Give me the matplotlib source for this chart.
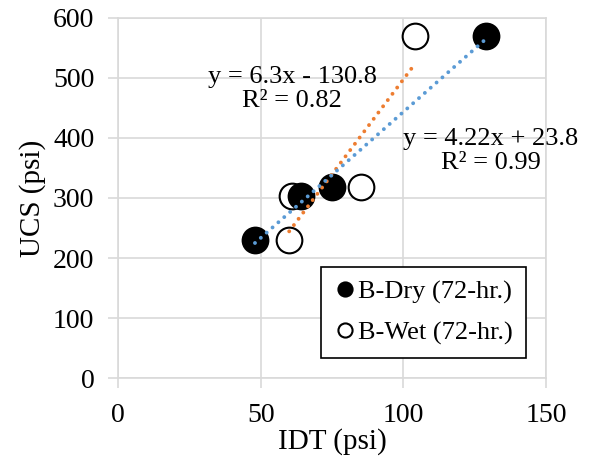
import numpy as np
import matplotlib.pyplot as plt

plt.rcParams['font.family'] = ['Liberation Serif', 'DejaVu Serif']

# B-Dry (72-hr.) и B-Wet (72-hr.)
idt_dry = [48, 64, 75, 129]
ucs_dry = [230, 303, 318, 570]
idt_wet = [60, 61, 85, 104]
ucs_wet = [230, 303, 318, 570]

eq_dry = 'y = 4.22x + 23.8\nR² = 0.99'
eq_wet = 'y = 6.3x - 130.8\nR² = 0.82'

fig = plt.figure(figsize=(5.92, 4.59), dpi=100)
ax = fig.add_axes([118/592, 1 - 378/459, 428/592, 360/459])

grid_c = '#d9d9d9'
ax.set_xlim(0, 150)
ax.set_ylim(0, 600)
ax.set_xticks([0, 50, 100, 150])
ax.set_yticks(range(0, 601, 100))
ax.grid(True, color=grid_c, linewidth=1.2)
ax.set_axisbelow(True)
for s in ax.spines.values():
    s.set_color(grid_c)
    s.set_linewidth(1.2)
ax.tick_params(colors=grid_c, labelcolor='black', labelsize=20, length=7, width=1.2)
ax.tick_params(axis='y', pad=10)
ax.tick_params(axis='x', pad=11)

# линии тренда
p_dry = np.polyfit(idt_dry, ucs_dry, 1)
p_wet = np.polyfit(idt_wet, ucs_wet, 1)
xd = np.array([min(idt_dry), max(idt_dry)])
xw = np.array([min(idt_wet), max(idt_wet)])

ax.plot(idt_dry, ucs_dry, 'o', ms=18.5, mfc='black', mec='black', mew=1.5,
        label='B-Dry (72-hr.)', zorder=3.5)
ax.plot(idt_wet, ucs_wet, 'o', ms=18.5, mfc='white', mec='black', mew=1.5,
        label='B-Wet (72-hr.)', zorder=3)
ax.plot(xw, np.polyval(p_wet, xw), color='#ED7D31', lw=2.8, ls=(0, (0.01, 2.0)),
        dash_capstyle='round', zorder=4)
ax.plot(xd, np.polyval(p_dry, xd), color='#5B9BD5', lw=2.8, ls=(0, (0.01, 2.0)),
        dash_capstyle='round', zorder=4)

ax.text(61, 482, eq_wet, ha='center', va='center', fontsize=19, linespacing=1.1, zorder=5)
ax.text(130.7, 378, eq_dry, ha='center', va='center', fontsize=19, linespacing=1.1, zorder=5)

ax.set_xlabel('IDT (psi)', fontsize=21, labelpad=0)
ax.set_ylabel('UCS (psi)', fontsize=21, labelpad=5)

leg = ax.legend(loc='lower right', bbox_to_anchor=(408/428, 20/360), fontsize=19,
                markerscale=0.55, handlelength=0.8, handletextpad=0.1,
                borderpad=0.5, borderaxespad=0, labelspacing=0.65, fancybox=False,
                framealpha=1, edgecolor='black')
leg.get_frame().set_linewidth(1.2)

fig.savefig('out.png', dpi=100)
